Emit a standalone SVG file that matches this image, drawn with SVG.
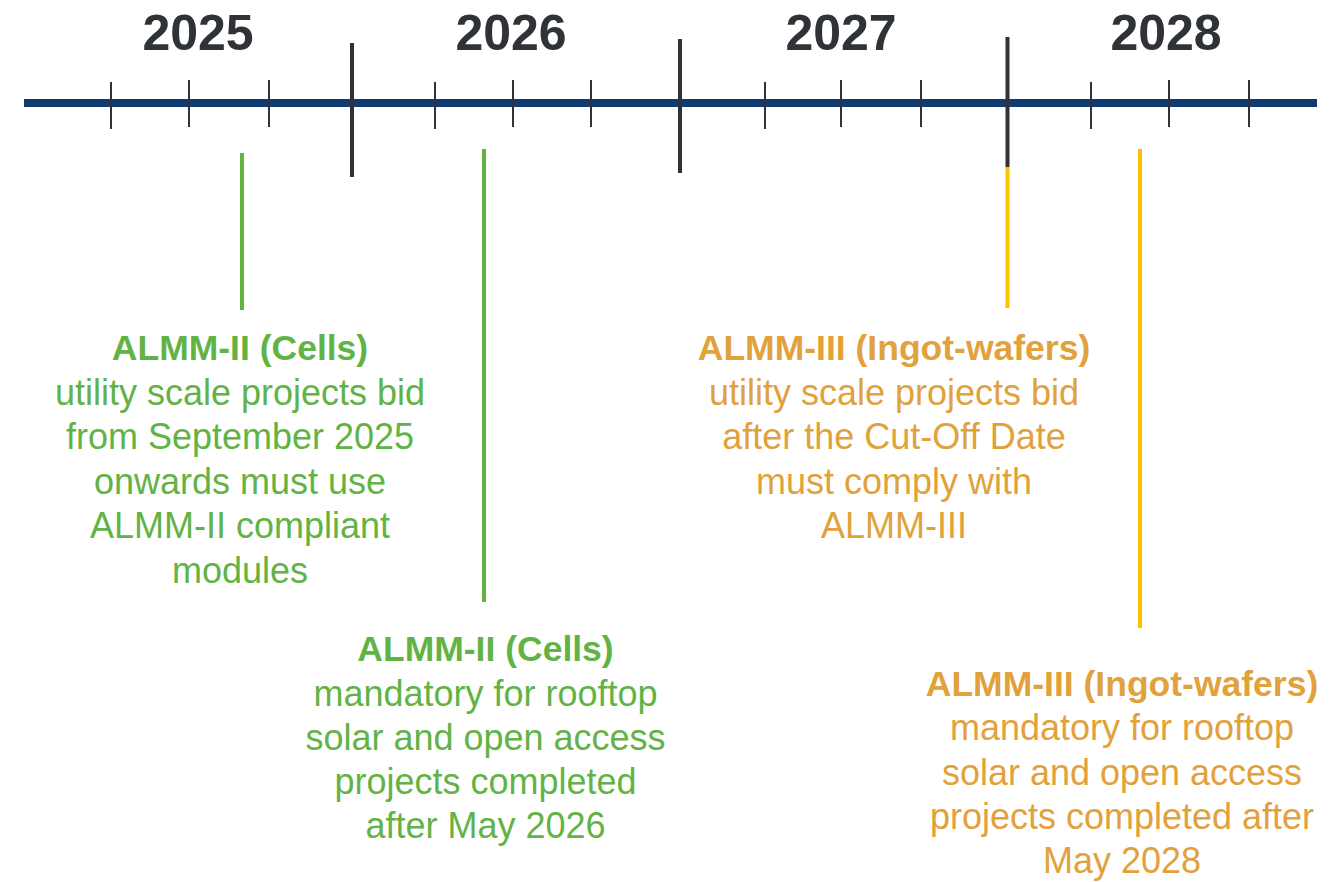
<svg xmlns="http://www.w3.org/2000/svg" width="1344" height="882" viewBox="0 0 1344 882">
<style>
.yr{font-family:"Liberation Sans",Arial,sans-serif;font-weight:bold;font-size:50px;fill:#2F3338;text-anchor:middle}
.t{font-family:"Liberation Sans",Arial,sans-serif;font-size:36px;text-anchor:middle}
.b{font-weight:bold;font-size:35.5px}
.g{fill:#62B345}
.o{fill:#E1A13B}
.minor{stroke:#2F3338;stroke-width:2}
.major{stroke:#2F3338;stroke-width:4}
.gl{stroke:#62B345;stroke-width:4}
.yl{stroke:#FFC000;stroke-width:4}
</style>
<rect width="1344" height="882" fill="#FFFFFF"/>
<g id="years">
<text class="yr" x="198" y="50">2025</text>
<text class="yr" x="511" y="50">2026</text>
<text class="yr" x="841" y="50">2027</text>
<text class="yr" x="1166" y="50">2028</text>
</g>
<g id="axis">
<line x1="24" y1="103" x2="1317" y2="103" stroke="#0F3B6F" stroke-width="8"/>
<line class="minor" x1="111" y1="82" x2="111" y2="129"/>
<line class="minor" x1="189" y1="80" x2="189" y2="127"/>
<line class="minor" x1="269" y1="80" x2="269" y2="127"/>
<line class="minor" x1="435" y1="82" x2="435" y2="129"/>
<line class="minor" x1="513" y1="80" x2="513" y2="127"/>
<line class="minor" x1="591" y1="80" x2="591" y2="127"/>
<line class="minor" x1="765" y1="82" x2="765" y2="129"/>
<line class="minor" x1="841" y1="80" x2="841" y2="127"/>
<line class="minor" x1="921" y1="80" x2="921" y2="127"/>
<line class="minor" x1="1091" y1="82" x2="1091" y2="129"/>
<line class="minor" x1="1169" y1="80" x2="1169" y2="127"/>
<line class="minor" x1="1249" y1="80" x2="1249" y2="127"/>
<line class="major" x1="352" y1="43" x2="352" y2="177"/>
<line class="major" x1="680" y1="39" x2="680" y2="173"/>
<line class="major" x1="1007.5" y1="37" x2="1007.5" y2="167"/>
</g>
<g id="connectors">
<line class="gl" x1="242" y1="153" x2="242" y2="310"/>
<line class="gl" x1="484" y1="149" x2="484" y2="602"/>
<line class="yl" x1="1007.5" y1="167" x2="1007.5" y2="308"/>
<line class="yl" x1="1140" y1="149" x2="1140" y2="628"/>
</g>
<g id="almm2-utility" class="t g">
<text class="b" x="240" y="360">ALMM-II (Cells)</text>
<text x="240" y="405">utility scale projects bid</text>
<text x="240" y="449">from September 2025</text>
<text x="240" y="494">onwards must use</text>
<text x="240" y="538">ALMM-II compliant</text>
<text x="240" y="583">modules</text>
</g>
<g id="almm2-rooftop" class="t g">
<text class="b" x="485.5" y="661">ALMM-II (Cells)</text>
<text x="485.5" y="706">mandatory for rooftop</text>
<text x="485.5" y="750">solar and open access</text>
<text x="485.5" y="794">projects completed</text>
<text x="485.5" y="838">after May 2026</text>
</g>
<g id="almm3-utility" class="t o">
<text class="b" x="894" y="360">ALMM-III (Ingot-wafers)</text>
<text x="894" y="405">utility scale projects bid</text>
<text x="894" y="449">after the Cut-Off Date</text>
<text x="894" y="494">must comply with</text>
<text x="894" y="538">ALMM-III</text>
</g>
<g id="almm3-rooftop" class="t o">
<text class="b" x="1122" y="696">ALMM-III (Ingot-wafers)</text>
<text x="1122" y="740">mandatory for rooftop</text>
<text x="1122" y="785">solar and open access</text>
<text x="1122" y="829">projects completed after</text>
<text x="1122" y="873">May 2028</text>
</g>
</svg>
